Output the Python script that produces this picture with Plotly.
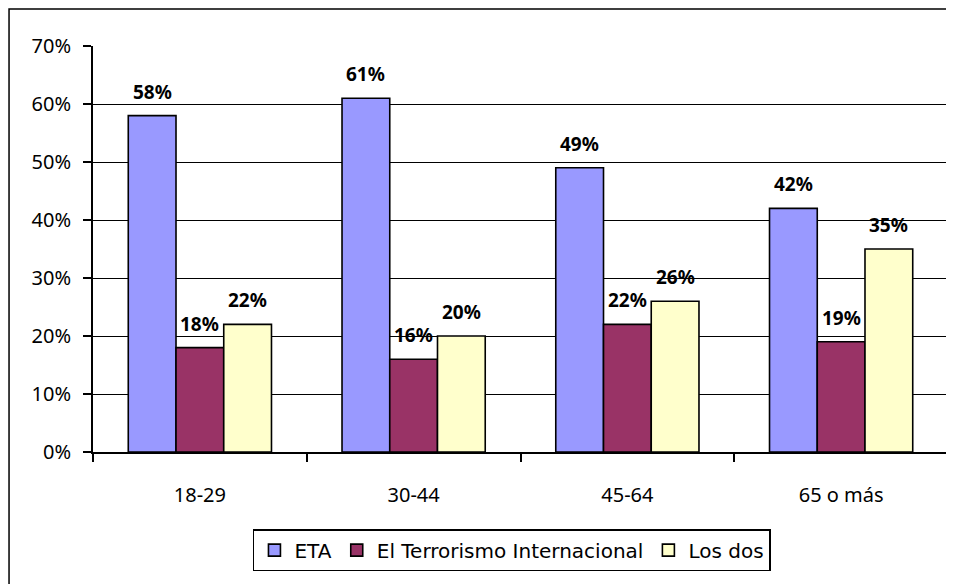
import plotly.graph_objects as go

categorias = ["18-29", "30-44", "45-64", "65 o más"]
eta = [58, 61, 49, 42]
internacional = [18, 16, 22, 19]
los_dos = [22, 20, 26, 35]
ticks_y = [0, 10, 20, 30, 40, 50, 60, 70]
ticks_y_txt = [f"{v}%" for v in ticks_y]

fuente = "Noto Sans"
hueco = 0.33
ancho = (1 - hueco) / 3

series = [
    ("ETA", eta, "#9999FF"),
    ("El Terrorismo Internacional", internacional, "#993366"),
    ("Los dos", los_dos, "#FFFFCC"),
]

fig = go.Figure()
etiquetas = []
for i, (nombre, valores, color) in enumerate(series):
    fig.add_trace(go.Bar(
        name=nombre, x=categorias, y=valores,
        marker=dict(color=color, line=dict(color="black", width=1.6)),
    ))
    # etiquetas encima de cada barra, algo separadas como en Excel
    for j, v in enumerate(valores):
        etiquetas.append(dict(
            x=j + (i - 1) * ancho, y=v, xref="x", yref="y",
            text=f"<b>{v}%</b>", showarrow=False,
            yanchor="middle", yshift=24,
            font=dict(family=fuente, size=19, color="black"),
        ))

fig.update_layout(
    width=946, height=576,
    margin=dict(l=85, r=6, t=38, b=132),
    barmode="group", bargap=hueco, bargroupgap=0,
    plot_bgcolor="white", paper_bgcolor="white",
    font=dict(family=fuente, size=20, color="black"),
    showlegend=True,
    legend=dict(
        orientation="h", x=0.49, xanchor="center", y=-0.19, yanchor="top",
        bordercolor="black", borderwidth=1.5,
        font=dict(family="DejaVu Sans", size=20),
        traceorder="normal",
    ),
    annotations=etiquetas,
    shapes=[dict(
        type="rect", xref="paper", yref="paper",
        x0=-0.0982, x1=1.0047, y0=-0.4, y1=1.0911,
        line=dict(color="black", width=1.5), layer="below",
    )],
)

fig.update_xaxes(
    showline=True, linecolor="black", linewidth=2, automargin=False,
    ticks="outside", tickson="boundaries", ticklen=8, tickwidth=2, tickcolor="black",
    ticklabelstandoff=24, showgrid=False,
)
fig.update_yaxes(
    range=[0, 70], tickvals=ticks_y, ticktext=ticks_y_txt, automargin=False,
    showline=True, linecolor="black", linewidth=2, mirror=True,
    ticks="outside", ticklen=8, tickwidth=1.5, tickcolor="black", ticklabelstandoff=8,
    showgrid=True, gridcolor="black", gridwidth=1.2, zeroline=False,
)

fig.write_html("out.html")
